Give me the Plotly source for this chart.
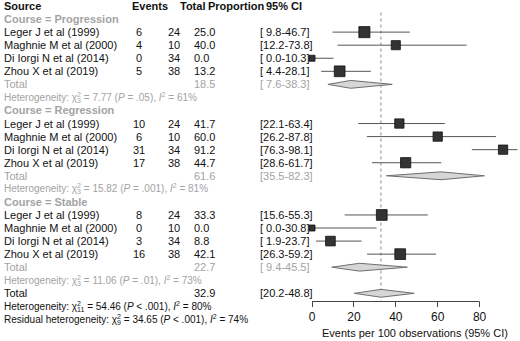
import math
import plotly.graph_objects as go

# ---------------- data ----------------
studies = ["Leger J et al (1999)", "Maghnie M et al (2000)",
           "Di Iorgi N et al (2014)", "Zhou X et al (2019)"]
study_total = [24, 10, 34, 38]
group_names = ["Progression", "Regression", "Stable"]

prog_events = [6, 4, 0, 5]
prog_prop = [25.0, 40.0, 0.0, 13.2]
prog_lo = [9.8, 12.2, 0.0, 4.4]
prog_hi = [46.7, 73.8, 10.3, 28.1]
prog_weight = [34, 23, 10, 32]

reg_events = [10, 6, 31, 17]
reg_prop = [41.7, 60.0, 91.2, 44.7]
reg_lo = [22.1, 26.2, 76.3, 28.6]
reg_hi = [63.4, 87.8, 98.1, 61.7]
reg_weight = [24, 24, 24, 29]

stab_events = [8, 0, 3, 16]
stab_prop = [33.3, 0.0, 8.8, 42.1]
stab_lo = [15.6, 0.0, 1.9, 26.3]
stab_hi = [55.3, 30.8, 23.7, 59.2]
stab_weight = [32, 10, 26, 32]

group_est = [18.5, 61.6, 22.7]
group_lo = [7.6, 35.5, 9.4]
group_hi = [38.3, 82.3, 45.5]
group_chi = ["7.77", "15.82", "11.06"]
group_df = [3, 3, 3]
group_p = ["= .05", "= .001", "= .01"]
group_i2 = [61, 81, 73]

overall_est = 32.9
overall_lo = 20.2
overall_hi = 48.8
overall_chi = "54.46"
overall_df = 11
overall_p = "< .001"
overall_i2 = 80
resid_chi = "34.65"
resid_df = 9
resid_p = "< .001"
resid_i2 = 74

x_ticks = [0, 20, 40, 60, 80]
x_title = "Events per 100 observations (95% CI)"

# ---------------- geometry ----------------
W, H = 520, 341
ROW0, ROWH = 6.0, 13.06
AXIS_PX = 301
X0_PX, PX_PER = 312.0, 2.095
FONT = "Liberation Sans, Arial, sans-serif"
BLACK = "#111111"
GRAY = "#a3a3a3"

groups = [
    (prog_events, prog_prop, prog_lo, prog_hi, prog_weight),
    (reg_events, reg_prop, reg_lo, reg_hi, reg_weight),
    (stab_events, stab_prop, stab_lo, stab_hi, stab_weight),
]


def ypaper(row):
    return 1 - (ROW0 + ROWH * row) / H


annotations = []


def add_text(text, xpx, row, anchor="left", color=BLACK, size=11, bold=False):
    if bold:
        text = "<b>" + text + "</b>"
    annotations.append(dict(
        text=text, x=xpx / W, y=ypaper(row), xref="paper", yref="paper",
        xanchor=anchor, yanchor="middle", showarrow=False,
        font=dict(family=FONT, size=size, color=color)))


def ci_text(lo, hi):
    return f"[{lo:4.1f}-{hi:4.1f}]"


def het_text(chi, df, p, i2, prefix="Heterogeneity"):
    # superscript 2 with negative letter-spacing so the df subscript stacks beneath it
    return (f"{prefix}: χ<sup><span style=\"letter-spacing:-3.9px\">2</span></sup>"
            f"<sub>{df}</sub> = {chi} "
            f"(<i>P</i> {p}), <i>I</i><sup>2</sup> = {i2}%")


# header
add_text("Source", 2, 0, bold=True)
add_text("Events", 130, 0, bold=True)
add_text("Total", 178, 0, bold=True)
add_text("Proportion", 206, 0, bold=True)
add_text("95% CI", 264, 0, bold=True)

fig = go.Figure()

# reference dotted line (overall estimate)
fig.add_trace(go.Scatter(x=[overall_est, overall_est], y=[0.5, (AXIS_PX - ROW0) / ROWH],
                         mode="lines", line=dict(color="#8a8a8a", width=1, dash="dot"),
                         hoverinfo="skip"))

line_x, line_y = [], []
sq_x, sq_y, sq_s = [], [], []
diamonds = []

for k, (ev, pr, lo, hi, wt) in enumerate(groups):
    base = 1 + 7 * k
    add_text(f"Course = {group_names[k]}", 2, base, color=GRAY, bold=True)
    for j in range(4):
        r = base + 1 + j
        add_text(studies[j], 2, r)
        add_text(str(ev[j]), 139, r, anchor="center")
        add_text(str(study_total[j]), 174, r, anchor="center")
        add_text(f"{pr[j]:.1f}", 192, r)
        add_text(ci_text(lo[j], hi[j]), 258, r)
        line_x += [lo[j], hi[j], None]
        line_y += [r, r, None]
        sq_x.append(pr[j])
        sq_y.append(r)
        sq_s.append(1.9 * math.sqrt(wt[j]))
    tr = base + 5
    add_text("Total", 2, tr, color=GRAY)
    add_text(f"{group_est[k]:.1f}", 192, tr, color=GRAY)
    add_text(ci_text(group_lo[k], group_hi[k]), 258, tr, color=GRAY)
    diamonds.append((group_est[k], group_lo[k], group_hi[k], tr))
    add_text(het_text(group_chi[k], group_df[k], group_p[k], group_i2[k]), 2, base + 6,
             color=GRAY, size=10)

add_text("Total", 2, 22)
add_text(f"{overall_est:.1f}", 192, 22)
add_text(ci_text(overall_lo, overall_hi), 258, 22)
diamonds.append((overall_est, overall_lo, overall_hi, 22))
add_text(het_text(overall_chi, overall_df, overall_p, overall_i2), 2, 23, size=10)
add_text(het_text(resid_chi, resid_df, resid_p, resid_i2, "Residual heterogeneity"), 2, 24, size=10)

# CI lines
fig.add_trace(go.Scatter(x=line_x, y=line_y, mode="lines",
                         line=dict(color="#555555", width=1), hoverinfo="skip"))
# squares
fig.add_trace(go.Scatter(x=sq_x, y=sq_y, mode="markers",
                         marker=dict(symbol="square", size=sq_s, color="#333333", opacity=1,
                                     line=dict(color="#111111", width=0.8)),
                         hoverinfo="skip"))
# diamonds
DH = 0.3
for est, lo, hi, r in diamonds:
    fig.add_trace(go.Scatter(x=[lo, est, hi, est, lo], y=[r, r - DH, r, r + DH, r],
                             mode="lines", fill="toself", fillcolor="#d6d6d6",
                             line=dict(color="#6e6e6e", width=1), hoverinfo="skip"))

# axis line and title
shapes = [dict(type="line", xref="x", yref="paper", x0=x_ticks[0], x1=x_ticks[-1],
               y0=(H - AXIS_PX - 0.5) / H, y1=(H - AXIS_PX - 0.5) / H,
               line=dict(color="#444444", width=1))]
annotations.append(dict(text=x_title, x=414.5 / W, y=(H - 333) / H, xref="paper", yref="paper",
                        xanchor="center", yanchor="middle", showarrow=False,
                        font=dict(family=FONT, size=11, color=BLACK)))

fig.update_layout(
    width=W, height=H, margin=dict(l=0, r=0, t=0, b=0),
    paper_bgcolor="white", plot_bgcolor="white", showlegend=False,
    font=dict(family=FONT, color=BLACK),
    xaxis=dict(domain=[0, 1], range=[-X0_PX / PX_PER, (W - X0_PX) / PX_PER],
               tickvals=x_ticks, ticks="outside", ticklen=5, tickcolor="#444444",
               tickwidth=1, showgrid=False, zeroline=False, showline=False,
               tickfont=dict(family=FONT, size=12, color=BLACK), fixedrange=True),
    yaxis=dict(domain=[(H - AXIS_PX) / H, 1],
               range=[(AXIS_PX - ROW0) / ROWH, -ROW0 / ROWH],
               visible=False, fixedrange=True),
    annotations=annotations, shapes=shapes,
)

fig.write_html("out.html", config={"displayModeBar": False},
               post_script="document.body.style.margin='0';document.body.style.overflow='hidden';")
